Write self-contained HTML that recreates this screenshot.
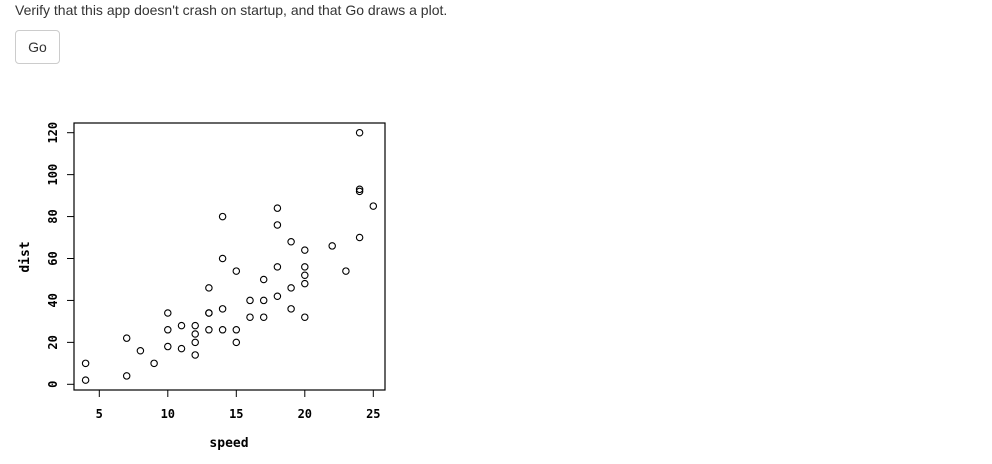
<!DOCTYPE html>
<html><head><meta charset="utf-8"><style>
body{margin:0;width:992px;height:464px;background:#fff;font-family:"Liberation Sans",sans-serif;overflow:hidden;position:relative}
#msg{position:absolute;left:15px;top:2px;font-size:14px;color:#333}
#go{position:absolute;left:15px;top:30px;width:45px;height:34px;border:1px solid #ccc;border-radius:4px;background:#fff;font-size:14px;color:#333;font-family:"Liberation Sans",sans-serif;padding:0;box-sizing:border-box}
svg{position:absolute;left:0;top:0}
</style></head><body>
<div id="msg">Verify that this app doesn't crash on startup, and that Go draws a plot.</div>
<button id="go">Go</button>
<svg id="plot" width="992" height="464" font-family="'DejaVu Sans Mono','Liberation Mono',monospace" font-size="12" font-weight="bold"></svg>
<script>
const speed=[4,4,7,7,8,9,10,10,10,11,11,12,12,12,12,13,13,13,13,14,14,14,14,15,15,15,16,16,17,17,17,18,18,18,18,19,19,19,20,20,20,20,20,22,23,24,24,24,24,25];
const dist=[2,10,4,22,16,10,18,26,34,17,28,14,20,24,28,26,34,34,46,26,36,60,80,20,26,54,32,40,32,40,50,42,56,76,84,36,46,68,32,48,52,56,64,66,54,70,92,93,120,85];
const xTicks=[5,10,15,20,25];
const yTicks=[0,20,40,60,80,100,120];
const NS="http://www.w3.org/2000/svg";
const svg=document.getElementById('plot');
const xs=v=>99.3+(v-5)*13.7;
const ys=v=>384.3-v*(384.3-132.7)/120;
function mk(t,a){const e=document.createElementNS(NS,t);for(const k in a)e.setAttribute(k,a[k]);svg.appendChild(e);return e;}
let box=mk('rect',{x:74,y:123,width:311,height:267,fill:'none',stroke:'#000','stroke-width':1.2});


xTicks.forEach(t=>{
  let l=mk('line',{x1:xs(t),x2:xs(t),y1:390,y2:397,stroke:'#000'});
  
  
  let tx=mk('text',{x:xs(t),y:418,'text-anchor':'middle'});tx.textContent=t;
  
  
});
yTicks.forEach(t=>{
  let l=mk('line',{x1:67,x2:74,y1:ys(t),y2:ys(t),stroke:'#000'});
  
  
  let tx=mk('text',{x:0,y:0,'text-anchor':'middle',transform:`translate(57,${ys(t)}) rotate(-90)`});tx.textContent=t;
  
  
});
speed.forEach((s,i)=>{
  let c=mk('circle',{cx:xs(s),cy:ys(dist[i]),r:3.2,fill:'none',stroke:'#000','stroke-width':1.1});
  
  
});
let xl=mk('text',{x:229,y:447,'text-anchor':'middle','font-size':13});xl.textContent='speed';


let yl=mk('text',{x:0,y:0,'text-anchor':'middle','font-size':13,transform:'translate(29,257) rotate(-90)'});yl.textContent='dist';


</script>
</body></html>
